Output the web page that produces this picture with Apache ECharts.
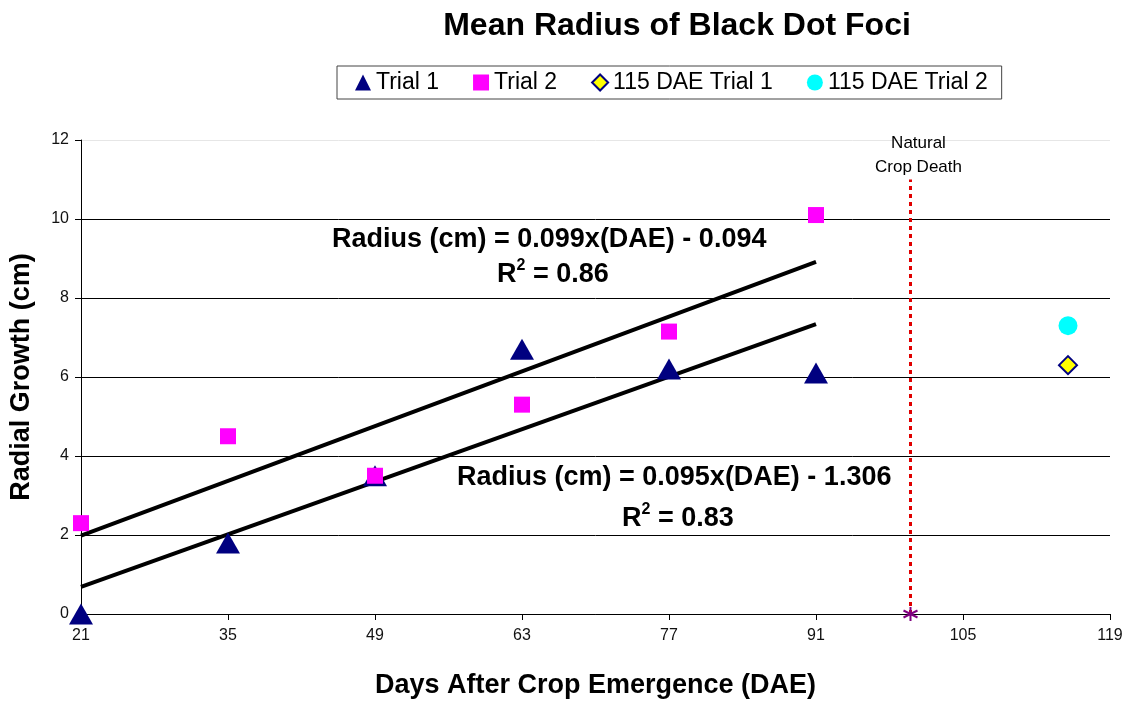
<!DOCTYPE html>
<html>
<head>
<meta charset="utf-8">
<script src="https://cdn.jsdelivr.net/npm/echarts@6/dist/echarts.min.js"></script>
<style>
  html, body { margin: 0; padding: 0; background: #fff; }
  #chart { width: 1131px; height: 704px; }
</style>
</head>
<body>
<div id="chart"></div>
<script>
// 数据
var days = [21, 35, 49, 63, 77, 91];
var trial1 = [0, 1.8, 3.5, 6.7, 6.2, 6.1];
var trial2 = [2.3, 4.5, 3.5, 5.3, 7.15, 10.1];
var late1 = [[115, 6.3]];
var late2 = [[115, 7.3]];
var cropDeathDay = 100;
var cropDeathTop = 11;
// 趋势线 (来自图中的公式)
var fit2 = { slope: 0.099, icept: -0.094 };
var fit1 = { slope: 0.095, icept: -1.306 };

var font = "Liberation Sans, Arial, sans-serif";

function pairs(ys) {
  return days.map(function (d, i) { return [d, ys[i]]; });
}
function fitLine(f) {
  var x0 = days[0], x1 = days[days.length - 1];
  return [[x0, f.slope * x0 + f.icept], [x1, f.slope * x1 + f.icept]];
}

var asterisk = "path://M0,-10L0,10M-8.7,-5L8.7,5M-8.7,5L8.7,-5";

function r2Text(v) {
  return {
    text: "{b|R}{s|2}{b| = " + v + "}",
    rich: {
      b: { font: "bold 27px " + font, fill: "#000", verticalAlign: "bottom" },
      s: { font: "bold 16px " + font, fill: "#000", verticalAlign: "top", padding: [0, 0, 14, 0] }
    }
  };
}

var option = {
  animation: false,
  textStyle: { fontFamily: font },
  title: {
    text: "Mean Radius of Black Dot Foci",
    left: 672, top: 5, textAlign: "center",
    textStyle: { fontSize: 32, fontWeight: "bold", color: "#000", fontFamily: font }
  },
  legend: {
    left: 337, top: 66,
    padding: [5, 14, 5, 18],
    borderColor: "#444", borderWidth: 1,
    itemGap: 34, itemWidth: 16, itemHeight: 16,
    textStyle: { fontSize: 23, color: "#000", fontFamily: font },
    data: ["Trial 1", "Trial 2", "115 DAE Trial 1", "115 DAE Trial 2"]
  },
  grid: { left: 80, right: 21, top: 140, bottom: 87, containLabel: false },
  xAxis: {
    type: "value", min: 21, max: 119, interval: 14,
    name: "Days After Crop Emergence (DAE)",
    nameLocation: "middle", nameGap: 58,
    nameTextStyle: { fontSize: 27, fontWeight: "bold", color: "#000", fontFamily: font },
    axisLine: { show: true, lineStyle: { color: "#000", width: 1 } },
    axisTick: { show: true, length: 6, lineStyle: { color: "#000" } },
    axisLabel: { fontSize: 16, color: "#111", margin: 14 },
    splitLine: { show: false }
  },
  yAxis: {
    type: "value", min: 0, max: 12, interval: 2,
    name: "Radial Growth (cm)",
    nameLocation: "middle", nameGap: 46, nameRotate: 90,
    nameTextStyle: { fontSize: 27, fontWeight: "bold", color: "#000", fontFamily: font },
    axisLine: { show: true, lineStyle: { color: "#000", width: 1 } },
    axisTick: { show: true, length: 6, lineStyle: { color: "#000" } },
    axisLabel: { fontSize: 16, color: "#111", margin: 12 },
    splitLine: {
      show: true,
      lineStyle: { color: ["#000", "#000", "#000", "#000", "#000", "#000", "#e6e6e6"], width: 1 }
    }
  },
  series: [
    {
      name: "Trend 2", type: "line", data: fitLine(fit2),
      symbol: "none", lineStyle: { color: "#000", width: 4 }, z: 3
    },
    {
      name: "Trend 1", type: "line", data: fitLine(fit1),
      symbol: "none", lineStyle: { color: "#000", width: 4 }, z: 3
    },
    {
      name: "Crop Death", type: "line",
      data: [[cropDeathDay, 0], [cropDeathDay, cropDeathTop]],
      symbol: "none",
      lineStyle: { color: "#e00000", width: 3, type: [4, 4] },
      endLabel: {
        show: true, formatter: "Natural\nCrop Death",
        fontSize: 17, color: "#000", lineHeight: 24,
        position: "top", distance: 8, align: "center", verticalAlign: "bottom"
      },
      z: 2
    },
    {
      name: "Crop Death Point", type: "scatter",
      data: [[cropDeathDay, 0]],
      symbol: asterisk, symbolSize: 14,
      itemStyle: { color: "none", borderColor: "#800080", borderWidth: 2, opacity: 1 },
      z: 4
    },
    {
      name: "Trial 1", type: "scatter", data: pairs(trial1),
      symbol: "triangle", symbolSize: [24, 21],
      itemStyle: { color: "#000080", opacity: 1 }, z: 5
    },
    {
      name: "Trial 2", type: "scatter", data: pairs(trial2),
      symbol: "rect", symbolSize: 16,
      itemStyle: { color: "#ff00ff", opacity: 1 }, z: 5
    },
    {
      name: "115 DAE Trial 1", type: "scatter", data: late1,
      symbol: "diamond", symbolSize: [18, 18],
      itemStyle: { color: "#ffff00", borderColor: "#000080", borderWidth: 2, opacity: 1 }, z: 5
    },
    {
      name: "115 DAE Trial 2", type: "scatter", data: late2,
      symbol: "circle", symbolSize: 19,
      itemStyle: { color: "#00ffff", opacity: 1 }, z: 5
    }
  ],
  graphic: [
    {
      type: "text", left: 332, top: 226,
      style: {
        text: "Radius (cm) = 0.099x(DAE) - 0.094",
        font: "bold 27px " + font, fill: "#000"
      }
    },
    { type: "text", left: 497, top: 258, style: r2Text("0.86") },
    {
      type: "text", left: 457, top: 464,
      style: {
        text: "Radius (cm) = 0.095x(DAE) - 1.306",
        font: "bold 27px " + font, fill: "#000"
      }
    },
    { type: "text", left: 622, top: 502, style: r2Text("0.83") }
  ]
};

var myChart = echarts.getInstanceByDom(document.getElementById("chart"));
if (myChart == null) {
  myChart = echarts.init(document.getElementById("chart"));
}
myChart.setOption(option, true);
</script>
</body>
</html>
